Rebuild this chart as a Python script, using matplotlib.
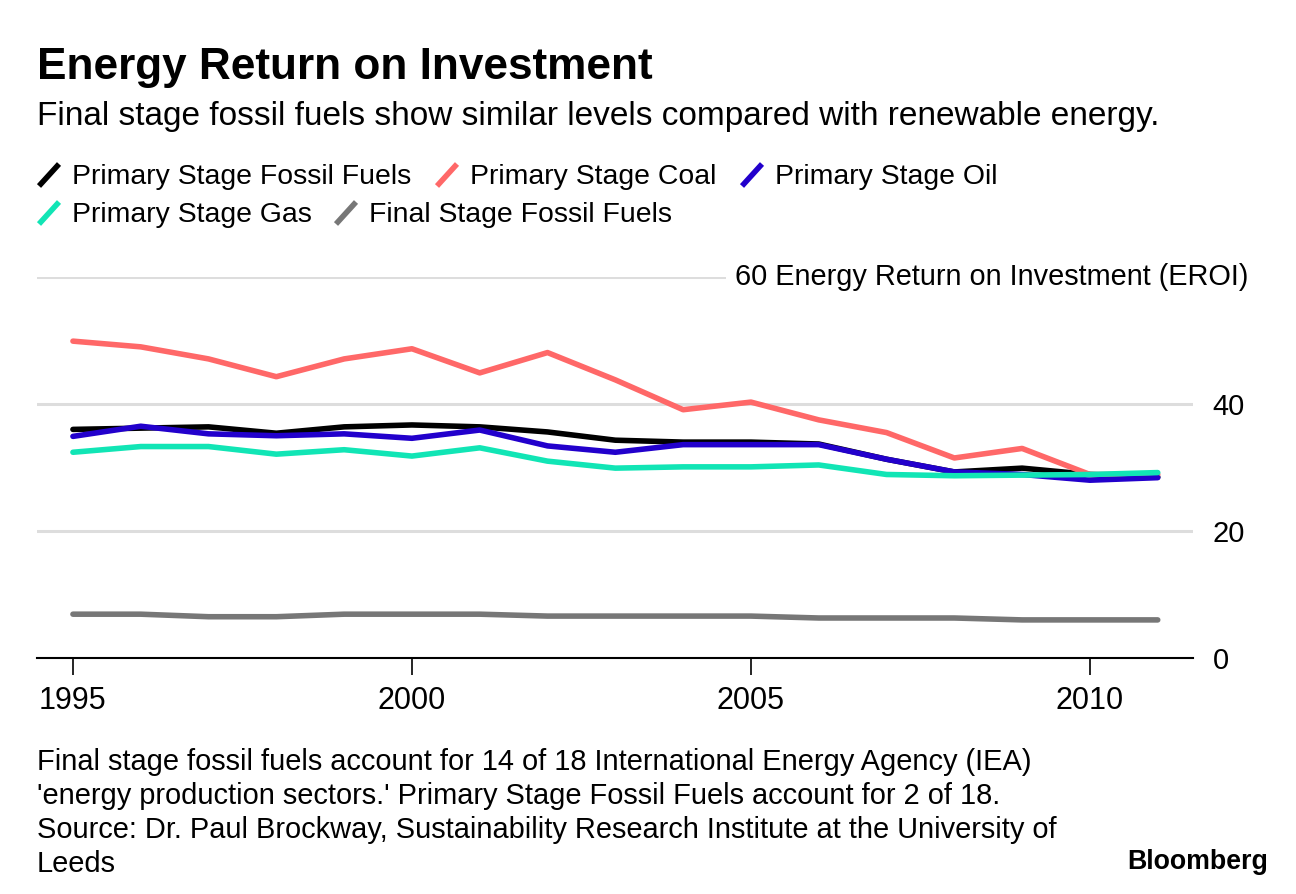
import matplotlib.pyplot as plt
from matplotlib.lines import Line2D
from matplotlib import font_manager

# 数据
years = list(range(1995, 2012))
primary_fossil = [36.0, 36.2, 36.4, 35.4, 36.4, 36.7, 36.4, 35.6, 34.3, 34.0, 34.0, 33.7, 31.3, 29.3, 29.9, 28.9, 28.5]
primary_coal = [49.9, 49.0, 47.1, 44.3, 47.1, 48.7, 44.9, 48.1, 43.8, 39.1, 40.3, 37.5, 35.5, 31.5, 33.0, 28.9, 28.9]
primary_oil = [34.9, 36.5, 35.3, 35.0, 35.3, 34.6, 35.9, 33.4, 32.4, 33.6, 33.6, 33.6, 31.3, 29.3, 28.9, 28.0, 28.4]
primary_gas = [32.4, 33.3, 33.3, 32.1, 32.8, 31.8, 33.1, 31.0, 29.9, 30.1, 30.1, 30.4, 28.9, 28.7, 28.8, 28.9, 29.2]
final_fossil = [6.9, 6.9, 6.5, 6.5, 6.9, 6.9, 6.9, 6.6, 6.6, 6.6, 6.6, 6.3, 6.3, 6.3, 6.0, 6.0, 6.0]

series_names = ['Primary Stage Fossil Fuels', 'Primary Stage Coal', 'Primary Stage Oil',
                'Primary Stage Gas', 'Final Stage Fossil Fuels']
colors = ['#000000', '#ff6868', '#2200cc', '#11e5b5', '#777777']

fams = {f.name for f in font_manager.fontManager.ttflist}
base = 'Liberation Sans Narrow' if 'Liberation Sans Narrow' in fams else 'Liberation Sans'
plt.rcParams['font.family'] = [base, 'DejaVu Sans']

W, H = 1296, 894
fig = plt.figure(figsize=(W / 100, H / 100), dpi=100)

def fx(px):
    return px / W

def fy(py):
    return 1 - py / H

ax = fig.add_axes([fx(37), fy(658), fx(1193 - 37), (658 - 277) / H])

# 绘制折线, 顺序: 灰, 黑, 红, 蓝, 青
order = [4, 0, 1, 2, 3]
data = [primary_fossil, primary_coal, primary_oil, primary_gas, final_fossil]
for i in order:
    ax.plot(years, data[i], color=colors[i], lw=4, solid_capstyle='round',
            solid_joinstyle='round', zorder=3)

ax.set_xlim(1994.47, 2011.52)
ax.set_ylim(0, 60)
for v in [20, 40, 60]:
    ax.axhline(v, color='#dddddd', lw=2.2, zorder=1)

for s in ['top', 'left', 'right']:
    ax.spines[s].set_visible(False)
ax.spines['bottom'].set_linewidth(1.5)
ax.spines['bottom'].set_zorder(4)

ax.set_xticks([1995, 2000, 2005, 2010])
ax.tick_params(axis='x', length=12, width=1.2, pad=8, labelsize=22)
ax.yaxis.tick_right()
ax.set_yticks([0, 20, 40])
ax.tick_params(axis='y', length=0, pad=14, labelsize=21)

ax.text(fx(1248 - 37) / fx(1193 - 37), 60, '60 Energy Return on Investment (EROI)',
        transform=ax.get_yaxis_transform(), ha='right', va='center', fontsize=20.8,
        bbox=dict(facecolor='white', edgecolor='none', pad=6), zorder=5)

# 标题
fig.text(fx(37), fy(68), 'Energy Return on Investment', fontsize=31.8, fontweight='bold',
         va='center', ha='left')
fig.text(fx(37), fy(117), 'Final stage fossil fuels show similar levels compared with renewable energy.',
         fontsize=24, va='center', ha='left')

# 图例 (斜线标记)
legend_pos = [(37, 175), (435, 175), (740, 175), (37, 213), (334, 213)]
for name, c, (px, py) in zip(series_names, colors, legend_pos):
    fig.add_artist(Line2D([fx(px + 2), fx(px + 22)], [fy(py + 11), fy(py - 11)],
                          color=c, lw=4, solid_capstyle='butt', transform=fig.transFigure))
    fig.text(fx(px + 35), fy(py + 2), name, fontsize=20.4, va='center', ha='left')

# 注释
notes = ("Final stage fossil fuels account for 14 of 18 International Energy Agency (IEA)\n"
         "'energy production sectors.' Primary Stage Fossil Fuels account for 2 of 18.\n"
         "Source: Dr. Paul Brockway, Sustainability Research Institute at the University of\n"
         "Leeds")
fig.text(fx(37), fy(748), notes, fontsize=20.9, va='top', ha='left', linespacing=1.27)
fig.text(fx(1268), fy(862), 'Bloomberg', fontsize=19.3, fontweight='bold', va='center', ha='right')

fig.savefig('out.png', dpi=100, facecolor='white')
